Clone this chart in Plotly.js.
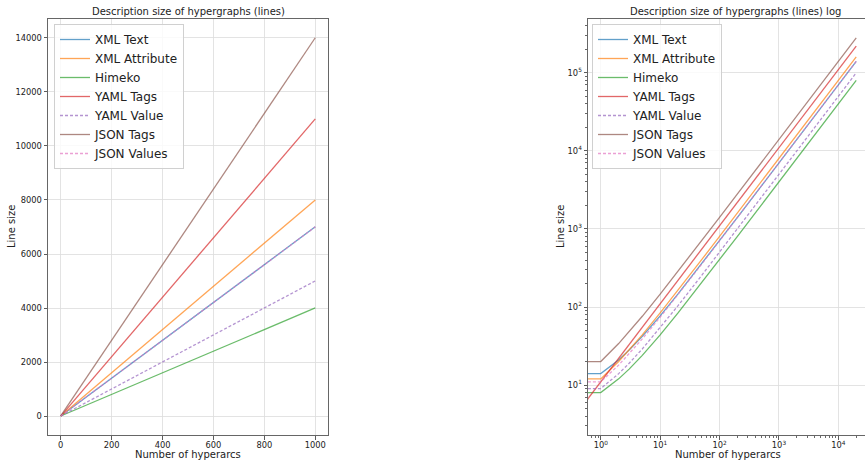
<!DOCTYPE html>
<html>
<head>
<meta charset="utf-8">
<script src="https://cdn.plot.ly/plotly-3.0.1.min.js"></script>
<style>
html,body{margin:0;padding:0;overflow:hidden;background:#fff;}
#chart{width:869px;height:462px;}
</style>
</head>
<body>
<div id="chart"></div>
<script>
// ---- Data ----
const seriesNames = ["XML Text", "XML Attribute", "Himeko", "YAML Tags", "YAML Value", "JSON Tags", "JSON Values"];

// Linear chart
const linX = [0, 200, 400, 600, 800, 1000];
const linXmlText      = [7, 1407, 2807, 4207, 5607, 7007];
const linXmlAttribute = [4, 1604, 3204, 4804, 6404, 8004];
const linHimeko       = [4, 804, 1604, 2404, 3204, 4004];
const linYamlTags     = [0, 2200, 4400, 6600, 8800, 11000];
const linYamlValue    = [4, 1004, 2004, 3004, 4004, 5004];
const linJsonTags     = [6, 2806, 5606, 8406, 11206, 14006];
const linJsonValues   = [4, 1404, 2804, 4204, 5604, 7004];

// Log chart
const logX = [0.5, 1, 2, 3, 5, 10, 20, 50, 100, 200, 500, 1000, 2000, 5000, 10000, 20000];
const logXmlText      = [14, 14, 21, 28, 42, 77, 147, 357, 707, 1407, 3507, 7007, 14007, 35007, 70007, 140007];
const logXmlAttribute = [12, 12, 20, 28, 44, 84, 164, 404, 804, 1604, 4004, 8004, 16004, 40004, 80004, 160004];
const logHimeko       = [8, 8, 12, 16, 24, 44, 84, 204, 404, 804, 2004, 4004, 8004, 20004, 40004, 80004];
const logYamlTags     = [5.5, 11, 22, 33, 55, 110, 220, 550, 1100, 2200, 5500, 11000, 22000, 55000, 110000, 220000];
const logYamlValue    = [9, 9, 14, 19, 29, 54, 104, 254, 504, 1004, 2504, 5004, 10004, 25004, 50004, 100004];
const logJsonTags     = [20, 20, 34, 48, 76, 146, 286, 706, 1406, 2806, 7006, 14006, 28006, 70006, 140006, 280006];
const logJsonValues   = [11, 11, 18, 25, 39, 74, 144, 354, 704, 1404, 3504, 7004, 14004, 35004, 70004, 140004];

// Ticks
const linXTicks = [0, 200, 400, 600, 800, 1000];
const linYTicks = [0, 2000, 4000, 6000, 8000, 10000, 12000, 14000];
const logTickVals = [1, 10, 100, 1000, 10000, 100000];
const logTickText = ["10<sup>0</sup>", "10<sup>1</sup>", "10<sup>2</sup>", "10<sup>3</sup>", "10<sup>4</sup>", "10<sup>5</sup>"];

const titles = ["Description size of hypergraphs (lines)", "Description size of hypergraphs (lines) log"];
const xTitle = "Number of hyperarcs";
const yTitle = "Line size";

// ---- Styles ----
const colors = ["#1f77b4", "#ff7f0e", "#2ca02c", "#d62728", "#9467bd", "#8c564b", "#e377c2"];
const dashes = ["solid", "solid", "solid", "solid", "dash", "solid", "dash"];

const linSeries = [linXmlText, linXmlAttribute, linHimeko, linYamlTags, linYamlValue, linJsonTags, linJsonValues];
const logSeries = [logXmlText, logXmlAttribute, logHimeko, logYamlTags, logYamlValue, logJsonTags, logJsonValues];

const traces = [];
[["x", "y", "legend", linX, linSeries], ["x2", "y2", "legend2", logX, logSeries]].forEach(([xa, ya, lg, xs, ser]) => {
  seriesNames.forEach((n, i) => {
    traces.push({
      x: xs, y: ser[i], name: n, type: "scatter", mode: "lines",
      line: {color: colors[i], width: 1.3, dash: dashes[i] === "dash" ? "3px,2px" : "solid"},
      opacity: 0.7, xaxis: xa, yaxis: ya, legend: lg
    });
  });
});

// minor tick positions for log axes
const minorVals = [];
for (let d = -1; d <= 6; d++) for (let m = 2; m <= 9; m++) minorVals.push(m * Math.pow(10, d));

const FONT = "DejaVu Sans, sans-serif";
const axisCommon = {
  showline: true, linecolor: "#666", linewidth: 1, mirror: true,
  ticks: "outside", ticklen: 3.5, tickwidth: 0.8, tickcolor: "#333",
  showgrid: true, gridcolor: "#dcdcdc", gridwidth: 0.8,
  zeroline: false, tickfont: {family: FONT, size: 8.3, color: "#222"},
  automargin: false
};

const W = 869, H = 462, ML = 48, MR = 0, MT = 19, MB = 27;
const PW = W - ML - MR, PH = H - MT - MB;
const leftDom = [0, (328 - ML) / PW];
const rightDom = [(588 - ML) / PW, 1];
const px = v => (v - ML) / PW;
const py = v => 1 - (v - MT) / PH;

const legendCommon = {
  font: {family: FONT, size: 12, color: "#222"},
  bgcolor: "rgba(255,255,255,0.8)", bordercolor: "#d0d0d0", borderwidth: 1,
  xanchor: "left", yanchor: "top", tracegroupgap: 0, itemwidth: 30
};

const txt = (text, x, y, extra) => Object.assign({
  text, xref: "paper", yref: "paper", x, y, xanchor: "center", yanchor: "middle",
  showarrow: false, font: {family: FONT, size: 10, color: "#222"}
}, extra || {});

const layout = {
  width: W, height: H,
  margin: {l: ML, r: MR, t: MT, b: MB},
  paper_bgcolor: "#fff", plot_bgcolor: "#fff",
  font: {family: FONT, color: "#222"},
  showlegend: true,
  xaxis: Object.assign({}, axisCommon, {
    domain: leftDom, anchor: "y", range: [-50, 1050], ticklabelstandoff: -1,
    tickmode: "array", tickvals: linXTicks, ticktext: linXTicks.map(String)
  }),
  yaxis: Object.assign({}, axisCommon, {
    domain: [0, 1], anchor: "x", range: [-700, 14700],
    tickmode: "array", tickvals: linYTicks, ticktext: linYTicks.map(String)
  }),
  xaxis2: Object.assign({}, axisCommon, {
    domain: rightDom, anchor: "y2", type: "log", range: [-0.215, 4.516], ticklabelstandoff: -1,
    tickmode: "array", tickvals: logTickVals, ticktext: logTickText,
    minor: {tickmode: "array", tickvals: minorVals, ticks: "outside", ticklen: 2, tickcolor: "#444", showgrid: false}
  }),
  yaxis2: Object.assign({}, axisCommon, {
    domain: [0, 1], anchor: "x2", type: "log", range: [0.36, 5.69],
    tickmode: "array", tickvals: logTickVals, ticktext: logTickText,
    minor: {tickmode: "array", tickvals: minorVals, ticks: "outside", ticklen: 2, tickcolor: "#444", showgrid: false}
  }),
  legend: Object.assign({}, legendCommon, {x: px(54), y: py(24)}),
  legend2: Object.assign({}, legendCommon, {x: px(592), y: py(24)}),
  annotations: [
    txt(titles[0], px(188), py(12)),
    txt(titles[1], px(735), py(12)),
    txt(xTitle, px(188), py(454.5)),
    txt(xTitle, px(728), py(454.5)),
    txt(yTitle, px(11), py(227), {textangle: -90}),
    txt(yTitle, px(560), py(227), {textangle: -90})
  ]
};

Plotly.newPlot("chart", traces, layout, {staticPlot: true, displayModeBar: false});
</script>
</body>
</html>
